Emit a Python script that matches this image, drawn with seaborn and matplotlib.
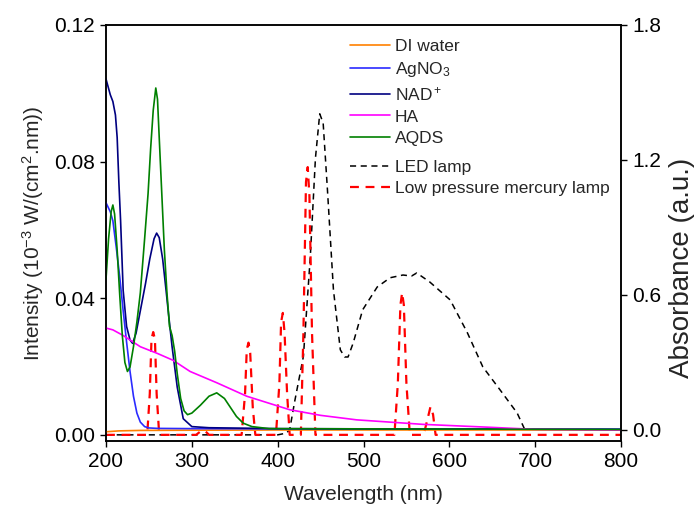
import numpy as np
import pandas as pd
import seaborn as sns
from matplotlib import pyplot as plt
from matplotlib.lines import Line2D

# absorbance spectra (right axis), wavelength in nm
di_water_nm = [200, 215, 240, 300, 400, 500, 600, 700, 800]
di_water_abs = [-0.008, -0.004, -0.002, -0.001, 0.0, 0.0, 0.0, 0.0, 0.0]

agno3_nm = [200, 205, 208, 212, 216, 220, 224, 228, 232, 236, 240, 245, 250, 260, 300, 400, 600, 800]
agno3_abs = [1.01, 0.97, 0.93, 0.81, 0.68, 0.53, 0.39, 0.26, 0.15, 0.075, 0.035, 0.015, 0.009,
             0.007, 0.006, 0.005, 0.004, 0.003]

nad_nm = [200, 205, 208, 211, 213, 215, 217, 220, 224, 228, 231, 235, 240, 246, 251, 256, 259,
          262, 266, 270, 273, 277, 283, 290, 300, 320, 400, 600, 800]
nad_abs = [1.56, 1.49, 1.46, 1.40, 1.30, 1.10, 0.93, 0.62, 0.46, 0.40, 0.385, 0.43, 0.53, 0.65,
           0.76, 0.85, 0.875, 0.855, 0.76, 0.62, 0.51, 0.37, 0.19, 0.05, 0.015, 0.01, 0.006,
           0.004, 0.003]

ha_nm = [200, 208, 220, 240, 260, 278, 298, 329, 364, 414, 450, 492, 569, 647, 698, 800]
ha_abs = [0.453, 0.445, 0.42, 0.37, 0.34, 0.31, 0.26, 0.21, 0.15, 0.09, 0.065, 0.045, 0.025,
          0.012, 0.003, 0.0]

aqds_nm = [200, 203, 206, 208, 210, 213, 216, 219, 222, 225, 228, 232, 236, 240, 245, 249, 252,
           255, 258, 260, 262, 265, 268, 271, 274, 277, 280, 283, 287, 291, 295, 300, 310, 320,
           329, 338, 345, 352, 360, 370, 390, 800]
aqds_abs = [0.67, 0.85, 0.97, 1.00, 0.96, 0.80, 0.60, 0.42, 0.30, 0.26, 0.28, 0.37, 0.48, 0.61,
            0.85, 1.05, 1.25, 1.42, 1.52, 1.47, 1.30, 1.05, 0.80, 0.61, 0.46, 0.42, 0.35, 0.25,
            0.14, 0.085, 0.068, 0.075, 0.11, 0.15, 0.165, 0.14, 0.10, 0.06, 0.03, 0.015, 0.006,
            0.002]

# lamp emission spectra (left axis), 10^-3 W/(cm2.nm)
led_nm = [200, 400, 410, 414, 420, 430, 438, 444, 449, 453, 458, 465, 473, 478, 482, 488, 499,
          516, 531, 546, 556, 562, 577, 601, 621, 639, 659, 679, 688]
led_int = [0.0, 0.0, 0.0005, 0.0015, 0.010, 0.023, 0.052, 0.081, 0.094, 0.0913, 0.0717, 0.0424,
           0.0249, 0.0228, 0.0228, 0.0269, 0.0366, 0.0433, 0.046, 0.0468, 0.0465, 0.0474, 0.0448,
           0.0395, 0.0299, 0.0199, 0.0132, 0.0064, 0.0015]

hg_nm = [200, 248, 251, 253, 255, 257, 259, 262, 305, 310, 313, 316, 320, 358, 362, 364, 366,
         368, 371, 374, 398, 402, 404, 406, 408, 411, 414, 427, 430, 433, 435, 437, 440, 444,
         536, 540, 543, 545, 547, 550, 554, 570, 575, 578, 581, 584, 800]
hg_int = [0.0, 0.0, 0.012, 0.028, 0.0301, 0.028, 0.012, 0.0, 0.0, 0.001, 0.0012, 0.001, 0.0,
          0.0, 0.012, 0.025, 0.027, 0.024, 0.008, 0.0, 0.0, 0.015, 0.033, 0.0357, 0.030, 0.012,
          0.0, 0.0, 0.03, 0.074, 0.0784, 0.07, 0.03, 0.0, 0.0, 0.015, 0.038, 0.0416, 0.038,
          0.015, 0.0, 0.0, 0.005, 0.0082, 0.006, 0.0, 0.0]

sns.set_style("ticks")
plt.rcParams["font.family"] = ["Liberation Sans", "DejaVu Sans"]
plt.rcParams["mathtext.fontset"] = "custom"
plt.rcParams["mathtext.rm"] = "Liberation Sans"
plt.rcParams["mathtext.it"] = "Liberation Sans:italic"
plt.rcParams["mathtext.default"] = "regular"

fig = plt.figure(figsize=(6.97, 5.13), dpi=100)
ax = fig.add_axes([106 / 697, 72 / 513, 515 / 697, 416 / 513])
ax2 = ax.twinx()

lamps = [
    ("LED lamp", led_nm, led_int, "black", 1.1, (4, 3)),
    ("Low pressure mercury lamp", hg_nm, hg_int, "#ff0000", 1.6, (4, 3)),
]
for name, x, y, col, lw, dash in lamps:
    df = pd.DataFrame({"nm": x, "val": y})
    sns.lineplot(data=df, x="nm", y="val", ax=ax, color=col, lw=lw, dashes=False,
                 sort=False, legend=False)
    ax.lines[-1].set_dashes(dash)

spectra = [
    ("DI water", di_water_nm, di_water_abs, "#ff8000"),
    ("AgNO$_3$", agno3_nm, agno3_abs, "#2b2bff"),
    ("NAD$^+$", nad_nm, nad_abs, "#000080"),
    ("HA", ha_nm, ha_abs, "#ff00ff"),
    ("AQDS", aqds_nm, aqds_abs, "#008000"),
]
for name, x, y, col in spectra:
    df = pd.DataFrame({"nm": x, "val": y})
    sns.lineplot(data=df, x="nm", y="val", ax=ax2, color=col, lw=1.2, sort=False, legend=False)

ax.set_xlim(200, 800)
ax.set_ylim(-0.0018, 0.12)
ax2.set_ylim(-0.049, 1.8)
ax.set_xticks(np.arange(200, 801, 100))
ax.set_yticks([0.0, 0.04, 0.08, 0.12])
ax.set_yticklabels(["0.00", "0.04", "0.08", "0.12"])
ax2.set_yticks([0.0, 0.6, 1.2, 1.8])
ax2.set_yticklabels(["0.0", "0.6", "1.2", "1.8"])

ax.set_xlabel("Wavelength (nm)", fontsize=15, labelpad=10)
ax.set_ylabel("Intensity (10$^{-3}$ W/(cm$^2$.nm))", fontsize=15, labelpad=6)
ax2.set_ylabel("Absorbance (a.u.)", fontsize=20)
ax2.yaxis.set_label_coords(1.094, 0.415)

for a in (ax, ax2):
    a.tick_params(direction="out", length=4, width=1, labelsize=15, colors="black", pad=4)
    for s in a.spines.values():
        s.set_linewidth(1.1)
        s.set_color("black")

h1 = [Line2D([], [], color=c, lw=1.2) for _, _, _, c in spectra]
leg1 = ax2.legend(h1, [s[0] for s in spectra], loc="upper left", bbox_to_anchor=(0.46, 0.983),
                  frameon=False, fontsize=12.5, handlelength=2.3, handletextpad=0.3,
                  labelspacing=0.35, borderaxespad=0)
ax2.add_artist(leg1)
h2 = [Line2D([], [], color=c, lw=lw, dashes=d) for _, _, _, c, lw, d in lamps]
ax2.legend(h2, [l[0] for l in lamps], loc="upper left", bbox_to_anchor=(0.46, 0.692),
           frameon=False, fontsize=12.5, handlelength=2.3, handletextpad=0.3,
           labelspacing=0.32, borderaxespad=0)

fig.savefig("out.png", dpi=100)
